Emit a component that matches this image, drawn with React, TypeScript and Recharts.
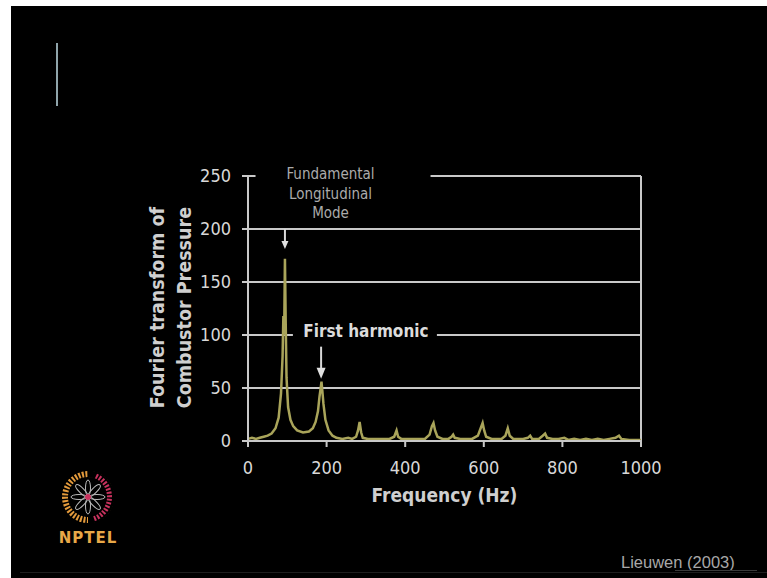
import React from 'react';
import { LineChart, Line, XAxis, YAxis, CartesianGrid, ReferenceLine, ReferenceDot } from 'recharts';

const frequencies = [0, 10, 20, 30, 40, 50, 60, 70, 78, 84, 88, 90, 92, 94, 96, 98, 102, 108, 115, 125, 140, 155, 165, 172, 178, 182, 185, 187, 189, 192, 197, 205, 215, 225, 240, 255, 265, 275, 280, 284, 288, 292, 305, 330, 360, 372, 378, 382, 390, 420, 450, 462, 468, 472, 476, 482, 495, 510, 518, 522, 526, 540, 570, 585, 592, 597, 601, 606, 620, 645, 655, 661, 666, 675, 700, 712, 718, 723, 740, 750, 756, 761, 775, 790, 805, 815, 830, 845, 860, 875, 890, 905, 920, 935, 944, 950, 970, 1000];
const amplitudes = [2, 3, 2, 3, 4, 5, 7, 12, 22, 45, 80, 118, 100, 172, 110, 60, 32, 20, 14, 10, 8, 9, 12, 18, 28, 42, 50, 56, 48, 35, 20, 10, 5, 3, 2, 3, 2, 4, 10, 18, 8, 3, 2, 2, 2, 4, 10, 4, 2, 2, 2, 6, 14, 17, 10, 4, 2, 2, 4, 6, 3, 2, 2, 5, 12, 17, 10, 4, 2, 2, 5, 12, 5, 2, 2, 3, 5, 2, 2, 5, 7, 3, 2, 2, 3, 1, 2, 1, 2, 1, 2, 1, 2, 3, 5, 2, 1, 1];
const xTicks = [0, 200, 400, 600, 800, 1000];
const yTicks = [0, 50, 100, 150, 200, 250];
const fundamentalLines = ['Fundamental', 'Longitudinal', 'Mode'];
const harmonicLabel = 'First harmonic';
const xTitle = 'Frequency (Hz)';
const yTitleLines = ['Fourier transform of', 'Combustor Pressure'];

const data = frequencies.map((f, i) => ({ f, a: amplitudes[i] }));

const FONT = "'DejaVu Sans Condensed', 'Liberation Sans Narrow', 'DejaVu Sans', sans-serif";
const GRID = '#c9c9c9';

const FundamentalNote = (props: any) => {
  const { cx, cy } = props;
  return (
    <g>
      <rect x={cx - 75} y={cy - 5} width={175} height={10} fill="#000" />
      {fundamentalLines.map((t, i) => (
        <text key={t} x={cx} y={cy - 2 + i * 19.5} textAnchor="middle" dominantBaseline="central"
          fill="#ababab" fontSize={15} fontFamily={FONT}>{t}</text>
      ))}
    </g>
  );
};

const HarmonicNote = (props: any) => {
  const { cx, cy } = props;
  return (
    <g>
      <rect x={cx - 73} y={cy - 6} width={144} height={12} fill="#000" />
      <text x={cx} y={cy - 4} textAnchor="middle" dominantBaseline="central"
        fill="#dcdcdc" fontSize={17} fontWeight="bold" fontFamily={FONT}>{harmonicLabel}</text>
    </g>
  );
};

const makeArrow = (len: number, headW: number, headH: number) => (props: any) => {
  const { cx, cy } = props;
  return (
    <g>
      <line x1={cx} y1={cy} x2={cx} y2={cy + len - headH + 1} stroke="#d8d8d8" strokeWidth={2} />
      <polygon points={`${cx - headW / 2},${cy + len - headH} ${cx + headW / 2},${cy + len - headH} ${cx},${cy + len}`} fill="#e0e0e0" />
    </g>
  );
};

const FundArrow = makeArrow(20, 7, 8);
const HarmArrow = makeArrow(32, 9, 11);

const YTitle = (props: any) => {
  const vb = props.viewBox || { x: 188, y: 176, width: 60, height: 265 };
  const cy = vb.y + vb.height / 2 - 1;
  const xs = [vb.x - 31, vb.x - 4];
  return (
    <g>
      {yTitleLines.map((t, i) => (
        <text key={t} x={xs[i]} y={cy} textAnchor="middle" dominantBaseline="central"
          transform={`rotate(-90 ${xs[i]} ${cy})`} fill="#cfcfcf" fontSize={19.5} fontWeight="bold" fontFamily={FONT}>{t}</text>
      ))}
    </g>
  );
};

const XTitle = (props: any) => {
  const vb = props.viewBox || { x: 248, y: 441, width: 393, height: 40 };
  return (
    <text x={vb.x + vb.width / 2} y={vb.y + 54} textAnchor="middle" dominantBaseline="central"
      fill="#cfcfcf" fontSize={19} fontWeight="bold" fontFamily={FONT}>{xTitle}</text>
  );
};

const petals = [0, 45, 90, 135, 180, 225, 270, 315];

const Logo = () => (
  <svg width={80} height={90} style={{ position: 'absolute', left: 48, top: 465 }}>
    <circle cx={40} cy={32} r={23} fill="none" stroke="#e39a3c" strokeWidth={6}
      strokeDasharray="2 1.5" />
    <path d="M 40 9 A 23 23 0 0 1 40 55" fill="none" stroke="#000" strokeWidth={7} />
    <path d="M 48 11 A 23 23 0 0 1 45 54" fill="none" stroke="#c9325e" strokeWidth={5} strokeDasharray="2 1.5" />
    {petals.map((a) => (
      <ellipse key={a} cx={40} cy={23} rx={2.5} ry={8} fill="none" stroke="#bbb" strokeWidth={1}
        transform={`rotate(${a} 40 32)`} />
    ))}
    <circle cx={40} cy={32} r={3} fill="#c9325e" />
    <text x={40} y={78} textAnchor="middle" fill="#e8a848" fontSize={15} fontWeight="bold"
      fontFamily="'DejaVu Sans', sans-serif" letterSpacing={1}>NPTEL</text>
  </svg>
);

export default function App() {
  return (
    <div style={{ position: 'absolute', left: 0, top: 0, width: 767, height: 578, background: '#fff', overflow: 'hidden' }}>
      <div style={{ position: 'absolute', left: 11, top: 6, width: 756, height: 572, background: '#000' }} />
      <div style={{ position: 'absolute', left: 56, top: 43, width: 2, height: 63, background: '#8fa4aa' }} />
      <Logo />
      <div style={{ position: 'absolute', left: 621, top: 553, color: '#a8a8a8', fontSize: 16.5, fontFamily: "'Liberation Sans', Arial, sans-serif" }}>Lieuwen (2003)</div>
      <div style={{ position: 'absolute', left: 675, top: 570, width: 82, height: 1, background: '#3a3a3a' }} />
      <div style={{ position: 'absolute', left: 20, top: 572, width: 747, height: 1, background: '#1e1e1e' }} />
      <div style={{ position: 'absolute', left: 0, top: 0 }}>
        <LineChart width={767} height={578} data={data} margin={{ top: 176, right: 126, bottom: 97, left: 188 }}>
          <CartesianGrid vertical={false} stroke={GRID} strokeWidth={2} />
          <XAxis dataKey="f" type="number" domain={[0, 1000]} ticks={xTicks} interval={0}
            stroke={GRID} strokeWidth={2} tickSize={6} tickMargin={14} height={40}
            tick={{ fill: '#d8d8d8', fontSize: 18, fontFamily: FONT }} label={<XTitle />} />
          <YAxis type="number" domain={[0, 250]} ticks={yTicks} interval={0} width={60}
            stroke={GRID} strokeWidth={2} tickSize={6} tickMargin={11}
            tick={{ fill: '#d8d8d8', fontSize: 18, fontFamily: FONT }} label={<YTitle />} />
          <ReferenceLine x={1000} stroke={GRID} strokeWidth={2} />
          <ReferenceDot x={210} y={250} r={0} shape={FundamentalNote} />
          <ReferenceDot x={300} y={100} r={0} shape={HarmonicNote} />
          <ReferenceDot x={94} y={200} r={0} shape={FundArrow} />
          <ReferenceDot x={186} y={89} r={0} shape={HarmArrow} />
          <Line type="linear" dataKey="a" stroke="#a9a45a" strokeWidth={2.5} dot={false} isAnimationActive={false} />
        </LineChart>
      </div>
    </div>
  );
}
